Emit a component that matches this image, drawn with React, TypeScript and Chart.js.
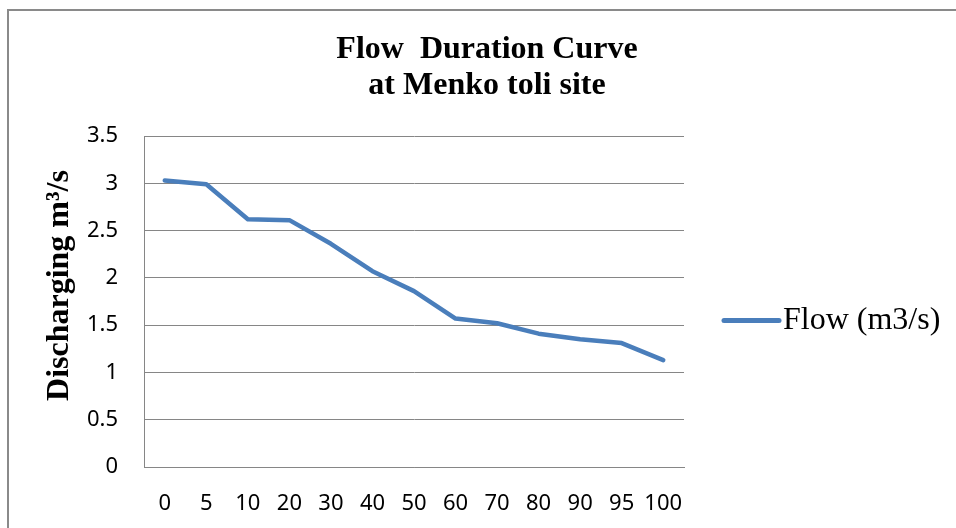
import React, { useEffect, useRef } from 'react';
import { Chart, registerables } from 'chart.js';

Chart.register(...registerables);

// ---- data ----
const categories = ['0', '5', '10', '20', '30', '40', '50', '60', '70', '80', '90', '95', '100'];
const flowValues = [3.03, 2.99, 2.62, 2.61, 2.36, 2.07, 1.86, 1.57, 1.52, 1.41, 1.35, 1.31, 1.13];
const seriesLabel = 'Flow (m3/s)';
const titleLines = ['Flow  Duration Curve', 'at Menko toli site'];
const yAxisTitle = 'Discharging m³/s';
const yMin = 0;
const yMax = 3.5;
const yStep = 0.5;

const SERIF = '"Liberation Serif", "Times New Roman", serif';
const SANS = '"Noto Sans", "Open Sans", sans-serif';
const LINE_COLOR = '#4a7ebb';
const GRID_COLOR = '#868686';

const yTitlePlugin = {
  id: 'yTitleCustom',
  afterDraw(chart: any) {
    const { ctx, chartArea } = chart;
    ctx.save();
    ctx.font = `bold 32px ${SERIF}`;
    ctx.fillStyle = '#000';
    ctx.textAlign = 'center';
    ctx.textBaseline = 'middle';
    ctx.translate(53, (chartArea.top + chartArea.bottom) / 2 - 16);
    ctx.rotate(-Math.PI / 2);
    ctx.fillText(yAxisTitle, 0, 0);
    ctx.restore();
  },
};

const legendPlugin = {
  id: 'legendCustom',
  afterDraw(chart: any) {
    const { ctx, chartArea } = chart;
    const ds = chart.data.datasets[0];
    const y = (chartArea.top + chartArea.bottom) / 2 + 19;
    const x0 = chartArea.right + 40;
    ctx.save();
    ctx.strokeStyle = ds.borderColor;
    ctx.lineWidth = 5;
    ctx.lineCap = 'round';
    ctx.beginPath();
    ctx.moveTo(x0, y);
    ctx.lineTo(x0 + 55, y);
    ctx.stroke();
    ctx.font = `32px ${SERIF}`;
    ctx.fillStyle = '#000';
    ctx.textAlign = 'left';
    ctx.textBaseline = 'middle';
    ctx.fillText(ds.label, x0 + 59, y);
    ctx.restore();
  },
};

export default function App() {
  const ref = useRef<HTMLCanvasElement>(null);

  useEffect(() => {
    if (!ref.current) return;
    const chart = new Chart(ref.current, {
      type: 'line',
      data: {
        labels: categories,
        datasets: [
          {
            label: seriesLabel,
            data: flowValues,
            borderColor: LINE_COLOR,
            backgroundColor: LINE_COLOR,
            borderWidth: 4.5,
            pointRadius: 0,
            pointHoverRadius: 0,
            tension: 0,
            fill: false,
            borderCapStyle: 'round',
            borderJoinStyle: 'round',
          },
        ],
      },
      options: {
        animation: false,
        responsive: false,
        devicePixelRatio: 1,
        layout: { padding: 0 },
        plugins: {
          legend: { display: false },
          tooltip: { enabled: false },
          title: {
            display: true,
            text: titleLines,
            color: '#000',
            font: { family: SERIF, size: 32, weight: 'bold', lineHeight: 1.125 },
            padding: { top: 32, bottom: 32 },
          },
        },
        scales: {
          x: {
            type: 'category',
            offset: true,
            grid: { display: false, drawTicks: false },
            border: { display: true, color: GRID_COLOR, width: 1 },
            ticks: {
              color: '#000',
              font: { family: SANS, size: 22 },
              padding: 24,
              maxRotation: 0,
              autoSkip: false,
            },
            afterFit: (s: any) => {
              s.height = 61;
            },
          },
          y: {
            type: 'linear',
            position: 'left',
            min: yMin,
            max: yMax,
            grid: { color: GRID_COLOR, lineWidth: 1, drawTicks: false },
            border: { display: true, color: GRID_COLOR, width: 1 },
            ticks: {
              stepSize: yStep,
              color: '#000',
              font: { family: SANS, size: 22 },
              padding: 26,
              callback: (v: any) => String(v),
            },
            afterFit: (s: any) => {
              s.width = 137;
            },
          },
          yRight: {
            type: 'linear',
            position: 'right',
            display: true,
            grid: { display: false, drawTicks: false },
            border: { display: false },
            ticks: { display: false },
            afterFit: (s: any) => {
              s.width = 283;
            },
          },
        },
      },
      plugins: [yTitlePlugin, legendPlugin],
    } as any);
    return () => chart.destroy();
  }, []);

  return (
    <div
      style={{
        position: 'fixed',
        left: 0,
        top: 0,
        width: 956,
        height: 528,
        overflow: 'hidden',
        background: '#fff',
      }}
    >
      <div
        style={{
          position: 'absolute',
          left: 7,
          top: 9,
          width: 1000,
          height: 600,
          borderTop: '2px solid #8a8a8a',
          borderLeft: '2px solid #8a8a8a',
          boxSizing: 'border-box',
        }}
      />
      <canvas
        ref={ref}
        width={960}
        height={528}
        style={{ position: 'absolute', left: 7, top: 0, width: 960, height: 528 }}
      />
    </div>
  );
}
